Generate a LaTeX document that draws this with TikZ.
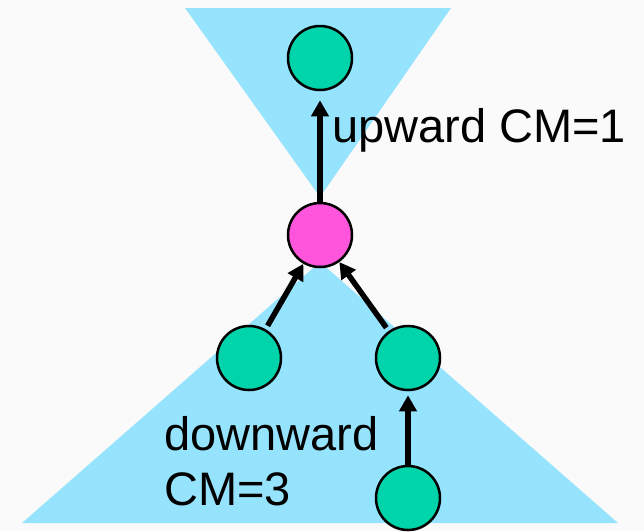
\documentclass[tikz,border=0pt]{standalone}
\usepackage{fontspec}
\setmainfont{Liberation Sans}
\usetikzlibrary{arrows.meta}
\definecolor{bg}{HTML}{FAFAFA}
\definecolor{cone}{HTML}{95E3FD}
\definecolor{teal}{HTML}{00D4AA}
\definecolor{pinkn}{HTML}{FF55DD}
\tikzset{
  vert/.style={circle, draw=black, line width=2.5pt, minimum size=64pt, inner sep=0pt, fill=teal},
  conn/.style={line width=5.5pt, -{Triangle[length=16pt,width=17pt]}},
  lbl/.style={font=\fontsize{47}{55}\selectfont, inner sep=0pt, align=left}
}
\begin{document}
\begin{tikzpicture}[x=1pt,y=-1pt]
\fill[bg] (0,0) rectangle (644,531);
\useasboundingbox (0,0) rectangle (644,531);
\fill[cone] (185,8) -- (451,8) -- (320,197) -- cycle;
\fill[cone] (22,523) -- (618,523) -- (320,262) -- cycle;
\node[vert] (t) at (320,58) {};
\node[vert, fill=pinkn] (p) at (320,235) {};
\node[vert] (l) at (249,358) {};
\node[vert] (r) at (408,358) {};
\node[vert] (b) at (408,498) {};
\draw[conn, shorten >=9pt] (p) -- (t);
\draw[conn, shorten <=4pt] (l) -- (p);
\draw[conn, shorten <=4pt] (r) -- (p);
\draw[conn, shorten >=4pt] (b) -- (r);
\node[lbl, anchor=base west] (u) at (332,142) {upward CM=1};
\node[lbl, anchor=base west] (d) at (164,505) {downward\\CM=3};
\end{tikzpicture}
\end{document}
